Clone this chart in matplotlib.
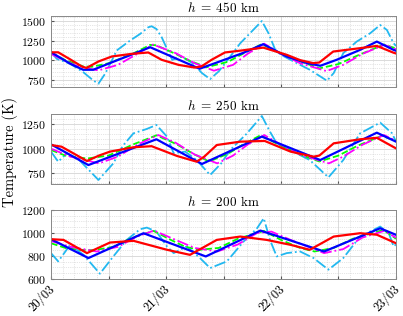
import matplotlib.pyplot as plt
import numpy as np
from matplotlib.ticker import FixedLocator, AutoMinorLocator
from matplotlib.transforms import ScaledTranslation

plt.rcParams['font.family'] = 'serif'
plt.rcParams['font.serif'] = ['cmr10']
plt.rcParams['mathtext.fontset'] = 'cm'
plt.rcParams['axes.formatter.use_mathtext'] = True

# hours since 20/03 00:00
xticks = [0, 12, 24, 36, 48, 60, 72]
xticklabels = ['20/03', '', '21/03', '', '22/03', '', '23/03']
titles = ['$h\\;=\\;450$ km', '$h\\;=\\;250$ km', '$h\\;=\\;200$ km']

# ---- h = 450 km ----
cyan1_t = [0, 1.2, 4, 6.7, 8.8, 9.9, 11.3, 12.7, 13.7, 16.5, 18.6, 20.3, 21, 22, 23.1, 24.2, 25.3, 27.3, 29.5, 31.5,
           33.2, 35, 36.7, 39.5, 42.2, 44, 45.4, 46.8, 48, 51.3, 54, 56.2, 57.6, 59, 61, 63.8, 66.6, 68.7, 70.1, 71.5, 72]
cyan1_v = [1102, 1017, 954, 848, 741, 700, 827, 996, 1123, 1250, 1335, 1420, 1433, 1398, 1293, 1144, 1004, 1045, 962,
           835, 758, 856, 990, 1216, 1386, 1500, 1343, 1131, 1068, 962, 877, 792, 737, 835, 1089, 1237, 1343, 1449,
           1386, 1216, 1180]
green1_t = [0, 3, 6.7, 8.5, 12, 17, 20.7, 22, 26, 29, 32.5, 37, 40, 44, 48, 52, 56, 60, 64, 69.5, 72]
green1_v = [1090, 1000, 920, 915, 960, 1080, 1195, 1190, 1080, 990, 910, 980, 1080, 1205, 1080, 985, 895, 950, 1060,
            1200, 1150]
mag1_t = [0, 3, 6, 9.9, 14, 18, 21.3, 26, 30, 34, 38, 41, 44.5, 48, 52, 57.5, 61, 65, 69.5, 72]
mag1_v = [1080, 990, 910, 869, 940, 1080, 1199, 1090, 960, 865, 940, 1080, 1210, 1080, 960, 860, 940, 1080, 1195, 1140]
blue1_t = [0, 4, 6.7, 8.8, 13.7, 17.2, 20.7, 31, 35.3, 40, 44.3, 49.2, 53.4, 56.2, 59.6, 64.5, 68, 71.5, 72]
blue1_v = [1102, 954, 877, 877, 996, 1080, 1165, 890, 985, 1090, 1204, 1046, 962, 928, 1004, 1131, 1237, 1131, 1120]
red1_t = [0, 1.5, 4, 6.4, 7.4, 9.9, 12.7, 16.8, 20.3, 23.1, 26.6, 30, 31.4, 33.5, 36.3, 40, 44.3, 49.2, 52, 54.7, 56,
          58.9, 64.5, 68, 71.4, 72]
red1_v = [1100, 1100, 1010, 920, 900, 983, 1047, 1080, 1098, 1004, 940, 905, 920, 1004, 1098, 1125, 1160, 1068, 1000,
          962, 970, 1110, 1153, 1182, 1097, 1085]

# ---- h = 250 km ----
cyan2_t = [0, 1.5, 3.3, 6, 9.9, 13, 15, 17.2, 20, 22, 24.2, 25.6, 28, 30.5, 33.2, 35.5, 37.4, 40.9, 44, 45.7, 47.1,
           49.9, 54, 57.9, 61, 64.5, 68.7, 71.2, 72]
cyan2_v = [970, 868, 953, 880, 683, 851, 1030, 1155, 1200, 1240, 1122, 953, 970, 880, 733, 850, 986, 1155, 1331, 1172,
           1054, 986, 885, 709, 885, 1155, 1264, 1155, 1071]
green2_t = [0, 3, 7.5, 12, 17, 22, 26, 30, 33, 37, 40, 43.7, 48, 52, 56, 60, 64, 69, 72]
green2_v = [986, 930, 900, 930, 1040, 1135, 1050, 940, 870, 950, 1040, 1135, 1030, 940, 870, 930, 1030, 1130, 1080]
mag2_t = [0, 4, 10, 14, 18, 22.4, 26, 30, 34.7, 38, 41, 44.5, 48, 52, 58, 61, 65, 69.5, 72]
mag2_v = [1000, 920, 851, 920, 1040, 1138, 1060, 940, 851, 930, 1040, 1138, 1040, 940, 851, 920, 1040, 1138, 1080]
blue2_t = [0, 7.8, 22, 31.5, 44, 56.2, 68, 72]
blue2_v = [1044, 834, 1095, 845, 1122, 885, 1162, 1071]
red2_t = [0, 2.2, 7.5, 10, 12.3, 17.2, 21, 26.3, 30.4, 32, 34.6, 39.5, 44.6, 50, 54.8, 56, 59, 64.5, 68, 72]
red2_v = [1037, 1020, 875, 930, 970, 1014, 1025, 926, 868, 920, 1037, 1071, 1078, 970, 919, 930, 1054, 1095, 1110, 1003]

# ---- h = 200 km ----
cyan3_t = [0, 1.5, 4, 6.8, 10.2, 13, 15.8, 18.6, 20, 22, 24.2, 25.6, 28.3, 31.1, 33.2, 36.7, 40.2, 43, 44.4, 45.7,
           47.1, 49.2, 52, 54.8, 57.9, 61, 64.5, 68.7, 70.5, 71.5, 72]
cyan3_v = [825, 753, 897, 810, 646, 796, 940, 1033, 1047, 1012, 883, 825, 883, 782, 695, 753, 926, 1041, 1128, 940,
           796, 825, 839, 782, 681, 782, 969, 1056, 998, 883, 900]
green3_t = [0, 3, 6, 9, 13, 17, 21.4, 25, 28, 31, 35, 39, 44.4, 48, 52, 55, 59, 63, 69.4, 72]
green3_v = [911, 870, 854, 850, 880, 960, 1018, 940, 880, 854, 870, 950, 1018, 940, 870, 839, 870, 950, 1027, 950]
mag3_t = [0, 4, 9.5, 14, 18, 21.5, 26, 30, 34.7, 39, 43, 46, 50, 57, 61, 65, 69.5, 72]
mag3_v = [930, 880, 839, 880, 970, 1021, 940, 870, 839, 900, 1000, 1012, 940, 825, 860, 960, 1018, 960]
blue3_t = [0, 7.8, 19.3, 32.3, 43.7, 57, 68.7, 72]
blue3_v = [946, 782, 998, 796, 1021, 839, 1041, 984]
red3_t = [0, 2.6, 7.5, 12.3, 17.2, 24.2, 29, 34.6, 39.5, 45, 50, 54, 59, 64.5, 68, 72]
red3_v = [946, 940, 825, 917, 932, 854, 810, 940, 969, 940, 897, 854, 969, 998, 985, 911]

panels = [
    [(cyan1_t, cyan1_v), (green1_t, green1_v), (mag1_t, mag1_v), (blue1_t, blue1_v), (red1_t, red1_v)],
    [(cyan2_t, cyan2_v), (green2_t, green2_v), (mag2_t, mag2_v), (blue2_t, blue2_v), (red2_t, red2_v)],
    [(cyan3_t, cyan3_v), (green3_t, green3_v), (mag3_t, mag3_v), (blue3_t, blue3_v), (red3_t, red3_v)],
]
ylims = [(657, 1564), (642, 1351), (600, 1200)]
yticks = [[750, 1000, 1250, 1500], [750, 1000, 1250], [600, 800, 1000, 1200]]
yminor = [5, 5, 4]

styles = [dict(color='#22B8F0', ls='-.', lw=1.3),
          dict(color='#00FF00', ls='--', lw=1.3),
          dict(color='#FF00FF', ls='-.', lw=1.3),
          dict(color='#0000FF', ls='-', lw=1.6),
          dict(color='#FF0000', ls='-', lw=1.6)]

fig = plt.figure(figsize=(4.03, 3.16), dpi=100)
boxes = [[0.1266, 0.7247, 0.856, 0.2247],
         [0.1266, 0.4177, 0.856, 0.2215],
         [0.1266, 0.1171, 0.856, 0.2184]]

for k in range(3):
    ax = fig.add_axes(boxes[k])
    for (t, v), st in zip(panels[k], styles):
        ax.plot(t, v, **st)
    ax.set_xlim(0, 72)
    ax.set_ylim(*ylims[k])
    ax.xaxis.set_major_locator(FixedLocator(xticks))
    ax.xaxis.set_minor_locator(AutoMinorLocator(5))
    ax.set_yticks(yticks[k])
    ax.yaxis.set_minor_locator(AutoMinorLocator(yminor[k]))
    ax.grid(which='major', color='#DADADA', lw=0.7)
    ax.grid(which='minor', color='#CCCCCC', lw=0.5, ls=':')
    ax.tick_params(which='both', direction='in', labelsize=8.5, color='#555555')
    ax.tick_params(which='major', length=2.5)
    ax.tick_params(which='minor', length=0)
    for s in ax.spines.values():
        s.set_color('#888888')
        s.set_linewidth(0.7)
    ax.set_title(titles[k], fontsize=9.5, pad=3)
    if k == 2:
        ax.set_xticklabels(xticklabels, rotation=45, ha='right', va='center',
                           rotation_mode='anchor', fontsize=9)
        shift = ScaledTranslation(2 / 100, -3 / 100, fig.dpi_scale_trans)
        for lab in ax.get_xticklabels():
            lab.set_transform(lab.get_transform() + shift)
    else:
        ax.set_xticklabels([])

fig.text(0.025, 0.52, 'Temperature (K)', rotation=90, va='center', ha='center', fontsize=10.5)

fig.savefig('out.png', dpi=100)
